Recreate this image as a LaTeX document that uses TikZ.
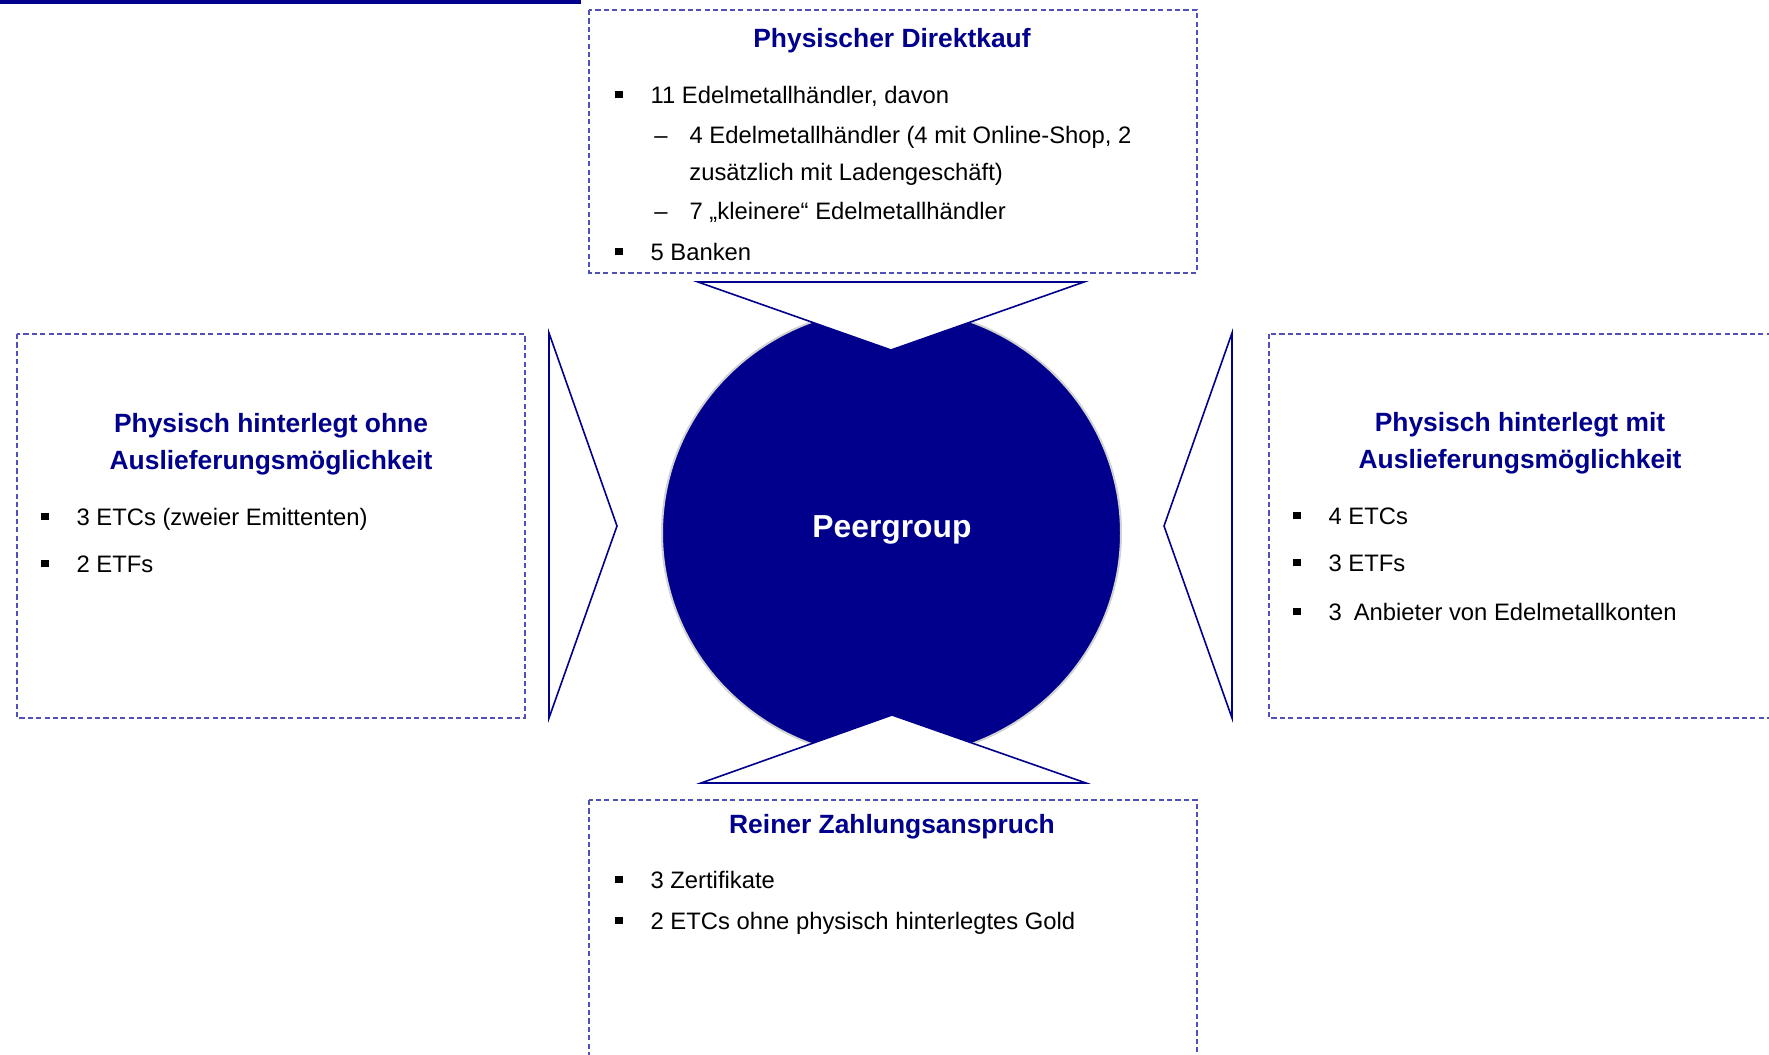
\documentclass[tikz,border=0pt]{standalone}
\usepackage{fontspec}
\setmainfont{Liberation Sans}
\usepackage{xcolor}
\usepackage{tikz}
\usetikzlibrary{positioning,shapes.geometric}

\definecolor{navy}{RGB}{0,0,140}
\definecolor{dashblue}{RGB}{80,80,185}
\newcommand{\sqb}{\rule[2.5pt]{3.6pt}{3.6pt}}

\begin{document}
\begin{tikzpicture}[
  x=0.5pt, y=-0.5pt,
  font=\fontsize{11.9}{14}\selectfont,
  frame/.style={draw=dashblue,line width=0.8pt,dash pattern=on 2.6pt off 1.6pt},
  head/.style={text=navy,font=\fontsize{13.2}{18.6}\selectfont\bfseries,align=center,inner sep=0pt},
  item/.style={anchor=mid west,inner sep=0pt},
  wedge/.style={draw=navy,fill=white,line width=0.8pt,line join=miter},
  peerball/.style={ellipse,fill=navy,draw=gray!35,line width=1pt,minimum width=229.5pt,
                   minimum height=225pt,inner sep=0pt},
  peertext/.style={text=white,font=\fontsize{15.9}{18}\selectfont\bfseries,inner sep=0pt},
]
\useasboundingbox (0,0) rectangle (1769,1055);
\clip (0,0) rectangle (1769,1055);

% header rule
\fill[navy] (0,0) rectangle (581,4);

% dashed frames
\draw[frame] (589,10) rectangle (1197,273);
\draw[frame] (17,334) rectangle (525,718);
\draw[frame] (1269,334) rectangle (1800,718);
\draw[frame] (589,800) rectangle (1197,1080);

% centre
\node[peerball] (peer) at (891.5,533) {};
\node[peertext] (peerlbl) at (892,530) {Peergroup};

% wedges
\draw[wedge] (698,282) -- (1084,282) -- (891,350) -- cycle;
\draw[wedge] (701,783) -- (1086,783) -- (892,715) -- cycle;
\draw[wedge] (549,333) -- (549,718) -- (617,526) -- cycle;
\draw[wedge] (1232,333) -- (1232,718) -- (1164,526) -- cycle;

% top
\node[head] (tdirekt) at (892,41) {Physischer Direktkauf};
\node[item] (d1) at (615,98) {\sqb\hspace{14pt}11 Edelmetallhändler, davon};
\node[item] (d2) at (654,138) {–\hspace{11pt}4 Edelmetallhändler (4 mit Online-Shop, 2};
\node[item] (d3) at (689,175) {zusätzlich mit Ladengeschäft)};
\node[item] (d4) at (654,214) {–\hspace{11pt}7 „kleinere“ Edelmetallhändler};
\node[item] (d5) at (615,255) {\sqb\hspace{14pt}5 Banken};

% left
\node[head] (tohne) at (271,444) {Physisch hinterlegt ohne\\Auslieferungsmöglichkeit};
\node[item] (o1) at (41,520) {\sqb\hspace{14pt}3 ETCs (zweier Emittenten)};
\node[item] (o2) at (41,567) {\sqb\hspace{14pt}2 ETFs};

% right
\node[head] (tmit) at (1520,443) {Physisch hinterlegt mit\\Auslieferungsmöglichkeit};
\node[item] (m1) at (1293,519) {\sqb\hspace{14pt}4 ETCs};
\node[item] (m2) at (1293,566) {\sqb\hspace{14pt}3 ETFs};
\node[item] (m3) at (1293,615) {\sqb\hspace{14pt}3\hspace{6pt}Anbieter von Edelmetallkonten};

% bottom
\node[head] (tzahl) at (892,827) {Reiner Zahlungsanspruch};
\node[item] (z1) at (615,883) {\sqb\hspace{14pt}3 Zertifikate};
\node[item] (z2) at (615,924) {\sqb\hspace{14pt}2 ETCs ohne physisch hinterlegtes Gold};
\end{tikzpicture}
\end{document}
